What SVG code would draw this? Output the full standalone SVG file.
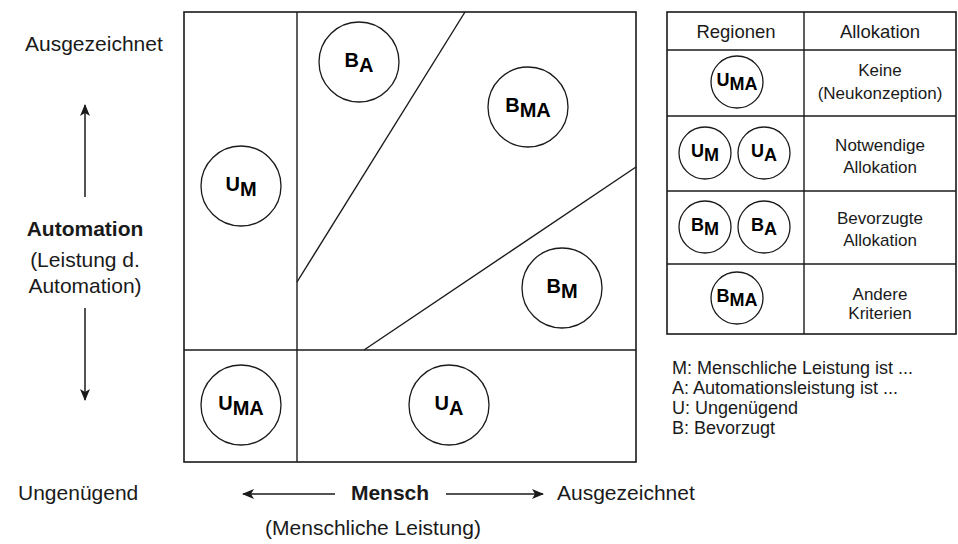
<svg xmlns="http://www.w3.org/2000/svg" width="958" height="544" viewBox="0 0 958 544">
  <style>
    .frame { fill: none; stroke: #1a1a1a; stroke-width: 1.6; }
    .div { fill: none; stroke: #1a1a1a; stroke-width: 1.4; }
    .ring { fill: #fff; stroke: #1a1a1a; stroke-width: 1.3; }
    .lbl { font-family: "Liberation Sans", Arial, sans-serif; font-weight: bold; fill: #000; text-anchor: middle; }
    .big { font-size: 20px; }
    .small { font-size: 18px; }
    .txt { font-family: "Liberation Sans", Arial, sans-serif; fill: #1a1a1a; }
    .axis { font-size: 21px; }
    .mid { text-anchor: middle; }
    .hdr { font-size: 18.5px; }
    .cell { font-size: 17px; }
    .leg { font-size: 18px; }
    .arrow { fill: none; stroke: #1a1a1a; stroke-width: 1.5; marker-end: url(#head); }
  </style>
  <defs>
    <marker id="head" viewBox="0 0 12 10" refX="11" refY="5" markerWidth="12" markerHeight="10" markerUnits="userSpaceOnUse" orient="auto">
      <path d="M0,0 L12,5 L0,10 L3,5 Z" fill="#1a1a1a"/>
    </marker>
  </defs>
  <rect width="958" height="544" fill="#fff"/>

  <!-- performance map -->
  <g id="map">
    <rect class="frame" x="184" y="12" width="452" height="450"/>
    <line class="div" x1="297" y1="12" x2="297" y2="462"/>
    <line class="div" x1="184" y1="350" x2="636" y2="350"/>
    <line class="div" x1="465" y1="12" x2="297" y2="282"/>
    <line class="div" x1="636" y1="167" x2="364" y2="350"/>
  </g>

  <g id="region-BA">
    <circle class="ring" cx="359" cy="62" r="40"/>
    <text class="lbl big" x="359" y="67">B<tspan dy="5">A</tspan></text>
  </g>
  <g id="region-BMA">
    <circle class="ring" cx="528" cy="107" r="40"/>
    <text class="lbl big" x="528" y="112">B<tspan dy="5">MA</tspan></text>
  </g>
  <g id="region-UM">
    <circle class="ring" cx="241" cy="186" r="40"/>
    <text class="lbl big" x="241" y="191">U<tspan dy="5">M</tspan></text>
  </g>
  <g id="region-BM">
    <circle class="ring" cx="562" cy="288" r="40"/>
    <text class="lbl big" x="562" y="293">B<tspan dy="5">M</tspan></text>
  </g>
  <g id="region-UMA">
    <circle class="ring" cx="241" cy="405" r="40"/>
    <text class="lbl big" x="241" y="410">U<tspan dy="5">MA</tspan></text>
  </g>
  <g id="region-UA">
    <circle class="ring" cx="449" cy="405" r="40"/>
    <text class="lbl big" x="449" y="410">U<tspan dy="5">A</tspan></text>
  </g>

  <!-- axis labels -->
  <g id="axis-automation">
    <text class="txt axis" x="25" y="51">Ausgezeichnet</text>
    <text class="txt axis mid" x="85" y="236" font-weight="bold" fill="#000">Automation</text>
    <text class="txt axis mid" x="85" y="267">(Leistung d.</text>
    <text class="txt axis mid" x="85" y="293">Automation)</text>
  </g>
  <g id="axis-mensch">
    <text class="txt axis" x="18" y="500">Ungenügend</text>
    <text class="txt axis mid" x="390" y="500" font-weight="bold" fill="#000">Mensch</text>
    <text class="txt axis" x="557" y="500">Ausgezeichnet</text>
    <text class="txt axis mid" x="373" y="535">(Menschliche Leistung)</text>
  </g>

  <g id="connectors">
    <line class="arrow" x1="85" y1="197" x2="85" y2="105"/>
    <line class="arrow" x1="85" y1="308" x2="85" y2="400"/>
    <line class="arrow" x1="335" y1="494" x2="243" y2="494"/>
    <line class="arrow" x1="446" y1="494" x2="543" y2="494"/>
  </g>

  <!-- allocation table -->
  <g id="table">
    <rect class="frame" x="667" y="12" width="289" height="322"/>
    <line class="div" x1="804" y1="12" x2="804" y2="334"/>
    <line class="div" x1="667" y1="50" x2="956" y2="50"/>
    <line class="div" x1="667" y1="116" x2="956" y2="116"/>
    <line class="div" x1="667" y1="191" x2="956" y2="191"/>
    <line class="div" x1="667" y1="264" x2="956" y2="264"/>
    <text class="txt hdr mid" x="736" y="38">Regionen</text>
    <text class="txt hdr mid" x="880" y="38">Allokation</text>

    <text class="txt cell mid" x="880" y="76">Keine</text>
    <text class="txt cell mid" x="880" y="99">(Neukonzeption)</text>
    <text class="txt cell mid" x="880" y="151">Notwendige</text>
    <text class="txt cell mid" x="880" y="173">Allokation</text>
    <text class="txt cell mid" x="880" y="224">Bevorzugte</text>
    <text class="txt cell mid" x="880" y="246">Allokation</text>
    <text class="txt cell mid" x="880" y="300">Andere</text>
    <text class="txt cell mid" x="880" y="319">Kriterien</text>
  </g>
  <g id="key-UMA">
    <circle class="ring" cx="737" cy="82" r="26"/>
    <text class="lbl small" x="737" y="86">U<tspan dy="4">MA</tspan></text>
  </g>
  <g id="key-UM">
    <circle class="ring" cx="705" cy="153" r="26"/>
    <text class="lbl small" x="705" y="157">U<tspan dy="4">M</tspan></text>
  </g>
  <g id="key-UA">
    <circle class="ring" cx="764" cy="153" r="26"/>
    <text class="lbl small" x="764" y="157">U<tspan dy="4">A</tspan></text>
  </g>
  <g id="key-BM">
    <circle class="ring" cx="705" cy="227" r="26"/>
    <text class="lbl small" x="705" y="231">B<tspan dy="4">M</tspan></text>
  </g>
  <g id="key-BA">
    <circle class="ring" cx="764" cy="227" r="26"/>
    <text class="lbl small" x="764" y="231">B<tspan dy="4">A</tspan></text>
  </g>
  <g id="key-BMA">
    <circle class="ring" cx="737" cy="298" r="26"/>
    <text class="lbl small" x="737" y="302">B<tspan dy="4">MA</tspan></text>
  </g>

  <!-- legend -->
  <g id="legend">
    <text class="txt leg" x="672" y="374">M: Menschliche Leistung ist ...</text>
    <text class="txt leg" x="672" y="394">A: Automationsleistung ist ...</text>
    <text class="txt leg" x="672" y="414">U: Ungenügend</text>
    <text class="txt leg" x="672" y="434">B: Bevorzugt</text>
  </g>
</svg>
